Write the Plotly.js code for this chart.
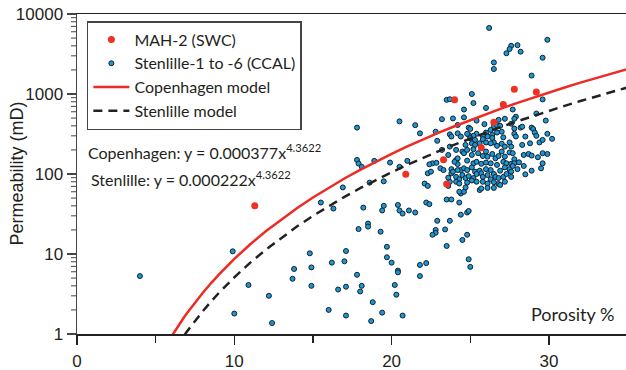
<!DOCTYPE html>
<html>
<head>
<meta charset="utf-8">
<script src="https://cdn.plot.ly/plotly-3.0.1.min.js"></script>
<style>html,body{margin:0;padding:0;background:#fff;}#chart{width:626px;height:370px;}</style>
</head>
<body>
<div id="chart"></div>
<script>
// MAH-2 (SWC) samples
const mahPorosity = [11.3, 20.9, 23.3, 23.5, 25.7, 24.0, 27.1, 27.8, 29.2, 26.5];
const mahPermeability = [40, 99, 151, 75, 213, 850, 740, 1150, 1060, 444];

// Stenlille-1 to -6 (CCAL) samples
const stenPorosity = [
  4.0, 9.9, 10.0, 10.9, 12.2, 12.4, 13.8, 13.7, 14.8, 14.9, 14.9,
  15.5, 16.3, 18.2, 19.5, 19.4, 20.4, 20.5, 20.7, 21.1, 21.5, 22.2, 22.4, 23.5, 24.3, 24.4, 24.6, 25.6, 24.4, 24.8, 24.9,
  17.9, 18.5, 18.5, 19.3, 22.9, 23.7, 22.8, 22.8, 22.6, 23.4, 24.8, 24.5, 23.5, 19.7, 19.7, 20.0, 20.4, 20.4, 21.8, 22.2,
  21.8, 24.9, 25.0, 17.1, 16.2, 17.0, 17.8, 16.6, 17.1, 18.1, 18.0, 16.0, 17.1, 18.8, 19.4, 18.7, 20.2, 20.3, 20.7,
  17.8, 20.5, 17.8, 17.9, 18.1, 18.9, 19.9, 20.5, 16.9, 18.6, 19.5, 21.0,
  26.2, 29.9, 27.6, 28.0, 27.5, 27.3, 28.2, 29.6, 26.5, 26.5, 28.9, 25.1, 29.6, 25.2, 23.5, 23.7, 24.6, 26.0, 27.7, 29.2,
  29.8, 24.6, 23.9, 23.2, 21.5, 27.9, 27.8, 27.2, 26.8, 25.9, 26.5, 24.9, 28.2, 28.9, 27.8, 24.2, 26.7,
  28.3, 29.0, 29.1, 29.9, 30.2, 26.9, 25.4, 25.0, 27.0, 27.6, 26.3, 26.0, 26.4, 25.4, 25.2,
  21.8, 22.8, 22.9, 23.7, 23.8, 24.9, 25.0, 23.7, 23.2, 24.1, 24.5, 24.7, 25.1, 22.6, 22.85, 22.4, 23.1, 23.3, 22.3, 23.8,
  23.7, 23.6, 24.1, 24.2, 24.4, 22.1, 22.3,
  24.2, 24.4, 24.8, 25.3, 25.8, 26.0, 26.1, 26.4, 26.7, 27.1, 26.5, 26.7, 27.0, 27.2, 27.5, 27.6, 27.8, 27.9, 28.3, 28.5,
  28.8, 29.2, 29.4, 29.6, 25.3, 25.6, 26.0, 26.3, 25.8,
  23.6, 24.2, 24.6, 24.8, 25.1, 25.2, 25.5, 25.8, 26.0, 26.1, 26.4, 26.6, 26.8, 27.0, 27.2, 27.5, 27.7, 27.8, 28.4, 28.7,
  28.9, 29.3, 29.6, 29.9, 24.0, 24.8, 25.2, 25.4, 25.7, 26.0, 26.3, 26.7, 27.1, 27.3, 27.6, 27.8, 28.1, 28.4, 29.6,
  23.8, 23.9, 24.2, 24.6, 24.8, 25.1, 25.3, 25.6, 25.7, 26.0, 26.3, 26.5, 26.9, 27.2, 27.5, 27.6, 27.7, 28.0, 28.5, 28.9,
  29.5, 24.1, 24.3, 24.5, 24.7, 24.9, 25.2, 25.4, 25.8, 26.1, 26.3, 26.6, 26.8, 27.1, 27.3, 27.6, 24.1, 24.3, 24.8, 25.1,
  25.4, 25.8, 26.1, 26.5, 26.8, 27.2, 25.7, 26.1, 26.5, 26.9, 23.6, 24.3, 24.7, 23.8, 22.5
];
const stenPermeability = [
  5.3, 10.8, 1.8, 4.1, 3.0, 1.37, 6.5, 4.9, 10.2, 6.8, 4.0,
  44, 37, 38, 40, 35, 41, 35, 32, 35, 33, 44, 42, 48, 44, 57, 60, 63, 31, 33, 34.5,
  20.5, 24, 22, 19, 26, 26, 20, 18.4, 17.4, 20.3, 17.4, 15, 12.6, 12.3, 9.1, 7.8, 6.2, 5.9, 7.3, 7.7,
  5.3, 8.6, 6.9, 10.9, 7.8, 8.1, 5.5, 3.6, 3.9, 4.0, 3.4, 2.0, 1.7, 2.5, 1.85, 1.45, 4.1, 3.1, 1.7,
  380, 455, 150, 135, 123, 146, 139, 123, 68, 78, 81, 146,
  6700, 4760, 4000, 4080, 3650, 3230, 3380, 2840, 2480, 2050, 1700, 1000, 855, 770, 845, 860, 640, 670, 640, 570,
  465, 510, 495, 485, 408, 520, 490, 490, 475, 420, 390, 380, 380, 380, 370, 410, 405,
  390, 365, 330, 318, 275, 400, 465, 366, 338, 425, 356, 308, 308, 318, 300,
  322, 338, 260, 313, 294, 308, 280, 220, 200, 200, 191, 231, 242, 136, 138, 132, 118, 112, 102, 102,
  80, 71, 150, 133, 112, 76, 71,
  322, 294, 318, 267, 300, 330, 294, 282, 330, 287, 248, 225, 239, 220, 248, 220, 318, 294, 231, 294,
  242, 300, 248, 267, 231, 242, 248, 242, 273,
  173, 157, 182, 200, 173, 204, 182, 168, 191, 165, 178, 157, 168, 191, 165, 186, 182, 153, 173, 178,
  170, 162, 182, 178, 142, 147, 136, 142, 134, 139, 136, 130, 142, 136, 134, 136, 140, 126, 136,
  115, 107, 112, 118, 112, 121, 107, 110, 102, 115, 112, 100, 110, 121, 115, 107, 126, 115, 99, 110,
  118, 92, 86, 97, 89, 94, 89, 100, 92, 97, 86, 92, 89, 92, 100, 92, 80, 76, 78, 83,
  80, 80, 76, 79, 75, 80, 66, 67, 67, 73, 90, 60, 68, 48, 107
];

// Model equations printed on the chart: k = a * phi^b
const copenhagenCoef = 0.000377;
const stenlilleCoef = 0.000222;
const modelExponent = 4.3622;
const modelPorosity = [5.8, 6.0, 6.25, 6.5, 6.75, 7.0, 7.5, 8.0, 8.5, 9.0, 10, 11, 12, 13, 14, 15, 16, 17, 18, 19, 20,
  21, 22, 23, 24, 25, 26, 27, 28, 29, 30, 31, 32, 33, 34, 35];

const xTickVals = [0, 10, 20, 30];
const xMinorVals = [5, 15, 25];
const yTickVals = [1, 10, 100, 1000, 10000];
const yTickText = ['1', '10', '100', '1000', '10000'];
const yMinorVals = [2, 3, 4, 5, 6, 7, 8, 9, 20, 30, 40, 50, 60, 70, 80, 90,
  200, 300, 400, 500, 600, 700, 800, 900, 2000, 3000, 4000, 5000, 6000, 7000, 8000, 9000];

const copenhagenPerm = modelPorosity.map(p => copenhagenCoef * Math.pow(p, modelExponent));
const stenlillePerm = modelPorosity.map(p => stenlilleCoef * Math.pow(p, modelExponent));

const textFont = 'Lato, "Open Sans", sans-serif';
const numFont = '"Liberation Sans", Arial, sans-serif';
const ink = '#231f20';

const traces = [
  {
    x: stenPorosity, y: stenPermeability, type: 'scatter', mode: 'markers',
    name: 'Stenlille-1 to -6 (CCAL)', legendrank: 2,
    marker: {size: 5, color: '#1a98d6', line: {color: '#15202b', width: 1}}
  },
  {
    x: modelPorosity, y: copenhagenPerm, type: 'scatter', mode: 'lines',
    name: 'Copenhagen model', legendrank: 3,
    line: {color: '#ee2a24', width: 2.5}
  },
  {
    x: modelPorosity, y: stenlillePerm, type: 'scatter', mode: 'lines',
    name: 'Stenlille model', legendrank: 4,
    line: {color: '#222222', width: 2.5, dash: '9px,6px'}
  },
  {
    x: mahPorosity, y: mahPermeability, type: 'scatter', mode: 'markers',
    name: 'MAH-2 (SWC)', legendrank: 1,
    marker: {size: 7, color: '#ee3124'}
  }
];

// minor log ticks on the y axis, drawn outside the left axis line
const minorTickShapes = yMinorVals.map(v => ({
  type: 'line', xref: 'paper', yref: 'y', x0: -6 / 549, x1: 0, y0: v, y1: v,
  line: {color: '#444', width: 1}, layer: 'above'
}));

const layout = {
  width: 626, height: 370,
  margin: {l: 77, r: 0, t: 14, b: 36, pad: 0},
  paper_bgcolor: '#ffffff', plot_bgcolor: '#ffffff',
  showlegend: true,
  xaxis: {
    range: [0, 34.9], tickmode: 'array', tickvals: xTickVals,
    ticks: 'outside', ticklen: 9, tickwidth: 1.5, tickcolor: '#222',
    showline: true, linecolor: '#222', linewidth: 1.5, mirror: true,
    showgrid: false, zeroline: false, ticklabelstandoff: 2,
    tickfont: {family: numFont, size: 17, color: ink},
    minor: {tickmode: 'array', tickvals: xMinorVals, ticks: 'outside', ticklen: 7, tickwidth: 1.5, tickcolor: '#222', showgrid: false}
  },
  yaxis: {
    type: 'log', range: [0, 4], tickmode: 'array', tickvals: yTickVals, ticktext: yTickText,
    ticks: 'outside', ticklen: 9, tickwidth: 1.5, tickcolor: '#444',
    showline: true, linecolor: '#444', linewidth: 1.5,
    showgrid: false, zeroline: false,
    tickfont: {family: numFont, size: 17, color: ink}
  },
  shapes: minorTickShapes,
  legend: {
    x: 0.018, y: 0.978, xanchor: 'left', yanchor: 'top',
    bgcolor: '#ffffff', bordercolor: '#444', borderwidth: 1.5,
    font: {family: textFont, size: 16, color: ink},
    itemwidth: 36, tracegroupgap: 0
  },
  annotations: [
    {xref: 'paper', yref: 'paper', x: (16.5 - 77) / 549, y: 0.5, xanchor: 'center', yanchor: 'middle',
     text: 'Permeability (mD)', textangle: -90, showarrow: false,
     font: {family: numFont, size: 18, color: ink}},
    {xref: 'paper', yref: 'paper', x: 0.982, y: 0.0625, xanchor: 'right', yanchor: 'middle',
     text: 'Porosity %', showarrow: false, font: {family: textFont, size: 18, color: ink}},
    {xref: 'paper', yref: 'paper', x: 0.016, y: 0.57, xanchor: 'left', yanchor: 'middle',
     text: 'Copenhagen: y = 0.000377x<sup>4.3622</sup>', showarrow: false,
     font: {family: textFont, size: 16, color: ink}},
    {xref: 'paper', yref: 'paper', x: 0.022, y: 0.485, xanchor: 'left', yanchor: 'middle',
     text: 'Stenlille: y = 0.000222x<sup>4.3622</sup>', showarrow: false,
     font: {family: textFont, size: 16, color: ink}}
  ]
};

Plotly.newPlot('chart', traces, layout, {staticPlot: true, displayModeBar: false});
</script>
</body>
</html>
